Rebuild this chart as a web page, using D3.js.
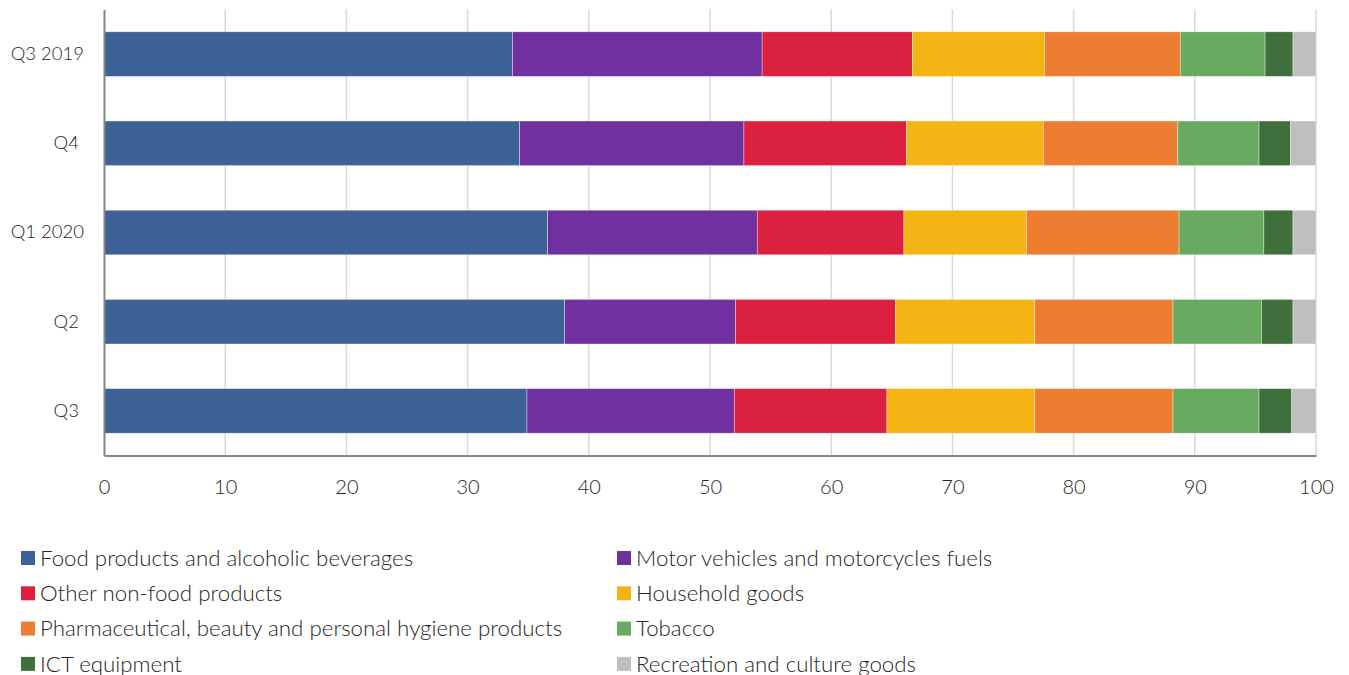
<!DOCTYPE html>
<html>
<head>
<meta charset="utf-8">
<script src="https://cdn.jsdelivr.net/npm/d3@7"></script>
<style>
  html, body { margin: 0; padding: 0; background: #fff; }
  svg text { font-family: Lato, "Open Sans", sans-serif; font-weight: 300; fill: #262626; white-space: pre; }
</style>
</head>
<body>
<svg id="chart" width="1349" height="675"></svg>
<script>
// Quarters shown top to bottom
const quarters = ["Q3 2019", "Q4 ", "Q1 2020", "Q2 ", "Q3 "];

// Product groups, in stacking order
const groups = [
  "Food products and alcoholic beverages",
  "Motor vehicles and motorcycles fuels",
  "Other non-food products",
  "Household goods",
  "Pharmaceutical, beauty and personal hygiene products",
  "Tobacco",
  "ICT equipment",
  "Recreation and culture goods"
];

// Share (%) of each group per quarter
const food       = [33.7, 34.3, 36.6, 38.0, 34.9];
const motorFuels = [20.6, 18.5, 17.3, 14.1, 17.1];
const otherNonFood = [12.4, 13.4, 12.1, 13.2, 12.6];
const household  = [10.9, 11.3, 10.1, 11.5, 12.2];
const pharma     = [11.2, 11.1, 12.6, 11.4, 11.4];
const tobacco    = [7.0, 6.7, 7.0, 7.3, 7.1];
const ict        = [2.3, 2.6, 2.4, 2.6, 2.7];
const recreation = [1.9, 2.1, 1.9, 1.9, 2.0];

const xTicks = [0, 10, 20, 30, 40, 50, 60, 70, 80, 90, 100];

const colors = ["#3e6197", "#7030a0", "#dc203f", "#f4b414", "#ed7d31", "#68aa60", "#3f6f3b", "#bfbfbf"];

const seriesValues = [food, motorFuels, otherNonFood, household, pharma, tobacco, ict, recreation];
const rows = quarters.map((q, i) => {
  const r = { quarter: q };
  groups.forEach((g, k) => { r[g] = seriesValues[k][i]; });
  return r;
});

const svg = d3.select("#chart");
const margin = { left: 104, right: 33, top: 9.5, bottom: 219.5 };
const W = 1349, H = 675;

const x = d3.scaleLinear().domain([0, 100]).range([margin.left, W - margin.right]);
const y = d3.scaleBand().domain(quarters).range([margin.top, H - margin.bottom])
  .paddingInner(0.5).paddingOuter(0.25);

// vertical gridlines
svg.append("g")
  .selectAll("line")
  .data(xTicks.filter(t => t > 0))
  .join("line")
  .attr("x1", d => x(d)).attr("x2", d => x(d))
  .attr("y1", margin.top).attr("y2", H - margin.bottom)
  .attr("stroke", "#d9d9d9").attr("stroke-width", 1.5);

// stacked bars
const stacked = d3.stack().keys(groups)(rows);
svg.append("g")
  .selectAll("g")
  .data(stacked)
  .join("g")
  .attr("fill", (d, i) => colors[i])
  .selectAll("rect")
  .data(d => d)
  .join("rect")
  .attr("x", d => x(d[0]))
  .attr("width", d => x(d[1]) - x(d[0]))
  .attr("y", d => y(d.data.quarter))
  .attr("height", y.bandwidth())
  .attr("stroke", "#ffffff")
  .attr("stroke-opacity", 0.6)
  .attr("stroke-width", 0.6);

// x axis
const xAxis = svg.append("g")
  .attr("transform", `translate(0,${H - margin.bottom})`)
  .call(d3.axisBottom(x).tickValues(xTicks).tickSize(0).tickPadding(24));
xAxis.select(".domain").attr("stroke", "#868686").attr("stroke-width", 2);
xAxis.selectAll("text").style("font-size", "20px").style("font-family", null).attr("fill", "#262626");

// y axis
const yAxis = svg.append("g")
  .attr("transform", `translate(${margin.left},0)`)
  .call(d3.axisLeft(y).tickSize(0).tickPadding(20));
yAxis.select(".domain").attr("stroke", "#868686").attr("stroke-width", 2);
yAxis.selectAll("text").style("font-size", "18.5px").style("font-family", null).attr("fill", "#262626");

// legend
const legendCols = [21, 617];
const legendRow0 = 558, legendStep = 35.3;
const legend = svg.append("g")
  .selectAll("g")
  .data(groups)
  .join("g")
  .attr("transform", (d, i) => `translate(${legendCols[i % 2]},${legendRow0 + Math.floor(i / 2) * legendStep})`);
legend.append("rect")
  .attr("x", 0).attr("y", -7).attr("width", 14).attr("height", 14)
  .attr("fill", (d, i) => colors[i]);
legend.append("text")
  .attr("x", 19).attr("y", 0).attr("dy", "0.35em")
  .style("font-size", "22.3px")
  .text(d => d);
</script>
</body>
</html>
